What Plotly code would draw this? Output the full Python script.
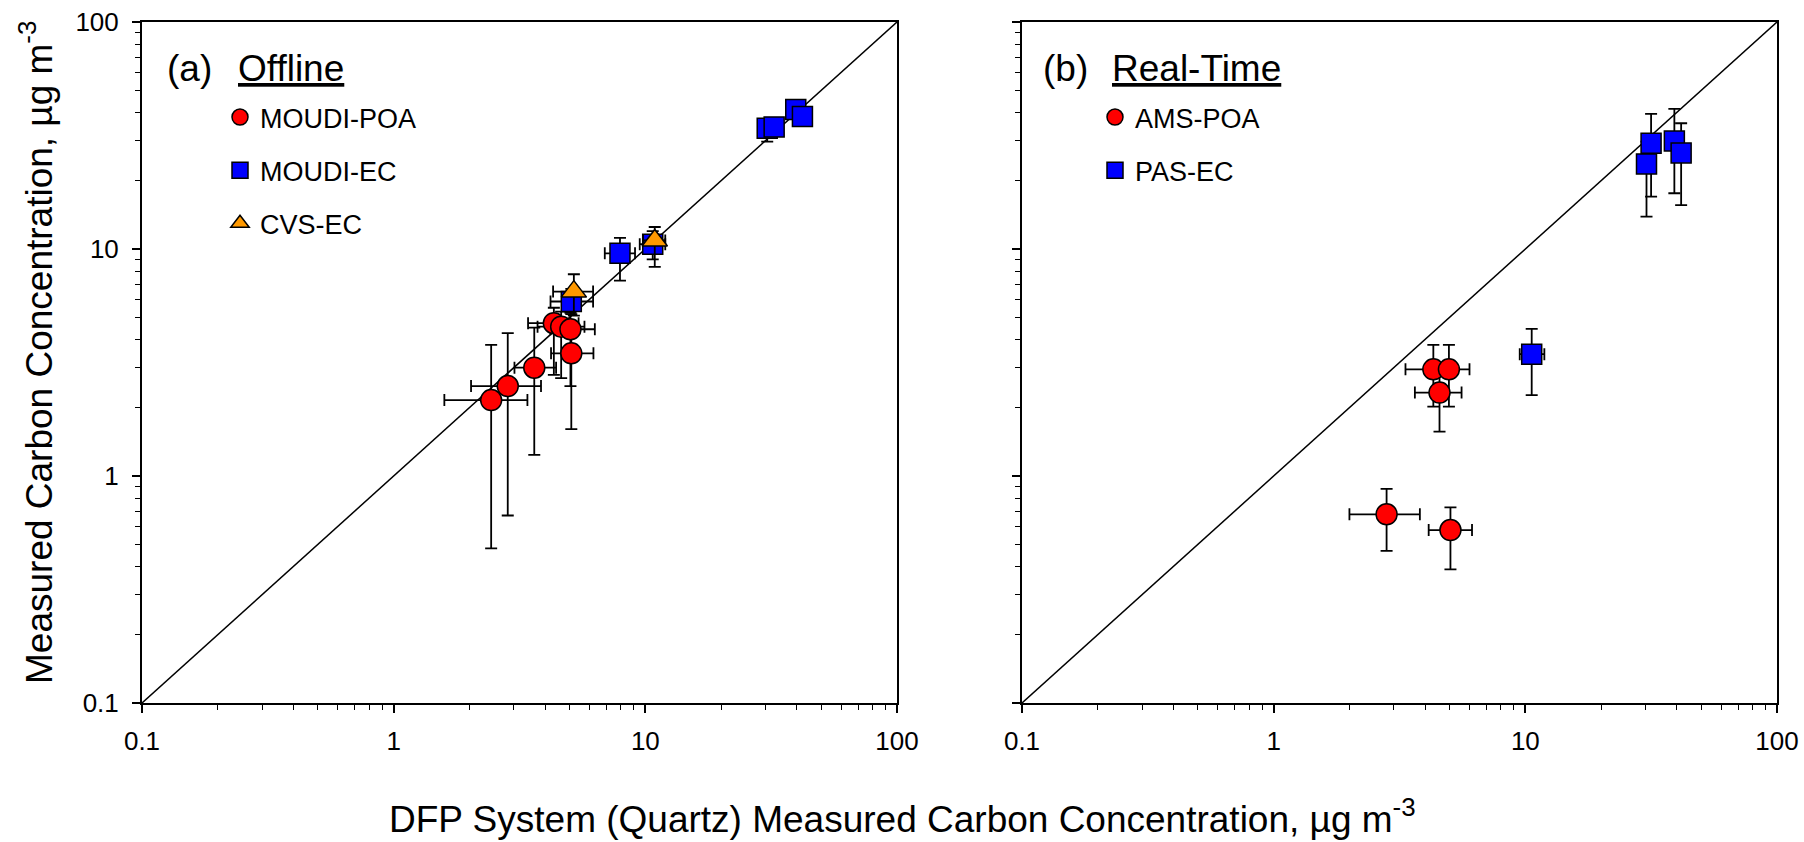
import plotly.graph_objects as go

# ---------------- data ----------------
# reference 1:1 line
line_x = [0.1, 100]
line_y = [0.1, 100]

# Panel (a) Offline
moudi_poa_x = [2.44, 2.84, 3.62, 5.08, 4.33, 4.63, 5.04]
moudi_poa_y = [2.16, 2.49, 3.00, 3.47, 4.71, 4.55, 4.43]
moudi_poa_xm = [0.85, 0.81, 0.60, 0.86, 0.91, 0.90, 0.84]
moudi_poa_xp = [0.96, 1.01, 0.80, 1.14, 1.10, 1.10, 1.26]
moudi_poa_ym = [1.68, 1.82, 1.76, 1.86, 1.92, 1.85, 1.94]
moudi_poa_yp = [1.62, 1.77, 1.50, 0.90, 0.80, 0.75, 0.80]

moudi_ec_x = [5.08, 7.93, 10.7, 30.5, 32.5, 39.6, 42.1]
moudi_ec_y = [5.87, 9.57, 10.5, 34.0, 34.5, 41.2, 38.3]
moudi_ec_xm = [0.88, 1.03, 1.20, 1.50, 1.50, 2.00, 2.00]
moudi_ec_xp = [1.12, 1.17, 1.30, 1.50, 1.50, 2.00, 2.00]
moudi_ec_ym = [0.70, 2.32, 1.50, 4.30, 3.00, 3.00, 3.00]
moudi_ec_yp = [0.80, 1.63, 1.50, 3.00, 3.00, 3.00, 3.00]

cvs_ec_x = [5.2, 10.9]
cvs_ec_y = [6.49, 10.9]
cvs_ec_xm = [0.90, 1.10]
cvs_ec_xp = [1.00, 1.10]
cvs_ec_ym = [1.40, 2.55]
cvs_ec_yp = [1.25, 1.60]

# Panel (b) Real-Time
ams_poa_x = [4.31, 4.97, 4.56, 2.81, 5.04]
ams_poa_y = [2.95, 2.95, 2.33, 0.678, 0.578]
ams_poa_xm = [0.97, 0.80, 0.92, 0.81, 0.91]
ams_poa_xp = [0.90, 1.03, 1.02, 1.00, 1.10]
ams_poa_ym = [0.93, 0.93, 0.76, 0.21, 0.19]
ams_poa_yp = [0.83, 0.83, 0.60, 0.20, 0.15]

pas_ec_x = [31.6, 30.3, 39.1, 41.6, 10.6]
pas_ec_y = [29.2, 23.7, 29.9, 26.5, 3.44]
pas_ec_xm = [1.5, 1.5, 1.5, 1.5, 1.10]
pas_ec_xp = [1.5, 1.5, 1.5, 1.5, 1.30]
pas_ec_ym = [12.2, 9.8, 12.3, 10.9, 1.17]
pas_ec_yp = [10.2, 6.0, 11.5, 9.3, 1.01]

tick_vals = [0.1, 1, 10, 100]
tick_text = ["0.1", "1", "10", "100"]

# ---------------- figure ----------------
FONT = "Liberation Sans, Arial, Helvetica, sans-serif"
W, H = 1804, 842

fig = go.Figure()


def add_series(x, y, xm, xp, ym, yp, name, symbol, color, xa, ya, legend, size=21):
    fig.add_trace(go.Scatter(
        x=x, y=y, mode="markers", name=name, xaxis=xa, yaxis=ya,
        legend=legend, legendgroup=name,
        marker=dict(symbol=symbol, size=size, color=color,
                    line=dict(color="black", width=1.5)),
        error_x=dict(type="data", symmetric=False, array=xp, arrayminus=xm,
                     color="black", thickness=1.8, width=6),
        error_y=dict(type="data", symmetric=False, array=yp, arrayminus=ym,
                     color="black", thickness=1.8, width=6),
    ))


# 1:1 lines
fig.add_trace(go.Scatter(x=line_x, y=line_y, mode="lines", xaxis="x", yaxis="y",
                         line=dict(color="black", width=1.5), showlegend=False,
                         hoverinfo="skip"))
fig.add_trace(go.Scatter(x=line_x, y=line_y, mode="lines", xaxis="x2", yaxis="y2",
                         line=dict(color="black", width=1.5), showlegend=False,
                         hoverinfo="skip"))

add_series(moudi_poa_x, moudi_poa_y, moudi_poa_xm, moudi_poa_xp, moudi_poa_ym, moudi_poa_yp,
           "MOUDI-POA", "circle", "#ff0000", "x", "y", "legend")
add_series(moudi_ec_x, moudi_ec_y, moudi_ec_xm, moudi_ec_xp, moudi_ec_ym, moudi_ec_yp,
           "MOUDI-EC", "square", "#0000ff", "x", "y", "legend", 20)
add_series(cvs_ec_x, cvs_ec_y, cvs_ec_xm, cvs_ec_xp, cvs_ec_ym, cvs_ec_yp,
           "CVS-EC", "triangle-up", "#ff9900", "x", "y", "legend", 22)

add_series(ams_poa_x, ams_poa_y, ams_poa_xm, ams_poa_xp, ams_poa_ym, ams_poa_yp,
           "AMS-POA", "circle", "#ff0000", "x2", "y2", "legend2")
add_series(pas_ec_x, pas_ec_y, pas_ec_xm, pas_ec_xp, pas_ec_ym, pas_ec_yp,
           "PAS-EC", "square", "#0000ff", "x2", "y2", "legend2", 20)

# panel geometry (pixels)
L1, R1 = 142, 897
L2, R2 = 1022, 1777
TOP, BOT = 22, 703
ydom = [1 - BOT / H, 1 - TOP / H]

common_axis = dict(
    type="log", range=[-1, 2], tickvals=tick_vals, ticktext=tick_text,
    ticks="outside", ticklen=8, tickwidth=1.6, tickcolor="black",
    showline=True, linecolor="black", linewidth=2, mirror=True,
    showgrid=False, zeroline=False, automargin=False,
    tickfont=dict(family=FONT, size=26, color="black"),
    minor=dict(ticks="outside", ticklen=5, tickwidth=1.3, tickcolor="black",
               dtick="D1", showgrid=False),
)

fig.update_layout(
    template="none",
    width=W, height=H,
    margin=dict(l=0, r=0, t=0, b=0, autoexpand=False),
    paper_bgcolor="white", plot_bgcolor="white",
    font=dict(family=FONT, color="black"),
    xaxis=dict(common_axis, domain=[L1 / W, R1 / W], anchor="y", ticklabelstandoff=6),
    yaxis=dict(common_axis, domain=ydom, anchor="x", ticklabelstandoff=8),
    xaxis2=dict(common_axis, domain=[L2 / W, R2 / W], anchor="y2", ticklabelstandoff=6),
    yaxis2=dict(common_axis, domain=ydom, anchor="x2", showticklabels=False),
    legend=dict(x=220 / W, y=1 - 93 / H, xanchor="left", yanchor="top",
                font=dict(family=FONT, size=27, color="black"),
                bgcolor="rgba(0,0,0,0)", borderwidth=0, tracegroupgap=15, itemwidth=30),
    legend2=dict(x=1095 / W, y=1 - 93 / H, xanchor="left", yanchor="top",
                 font=dict(family=FONT, size=27, color="black"),
                 bgcolor="rgba(0,0,0,0)", borderwidth=0, tracegroupgap=15, itemwidth=30),
    showlegend=True,
)

big = dict(family=FONT, size=37, color="black")
ann = [
    dict(text="DFP System (Quartz) Measured Carbon Concentration, µg m<sup>-3</sup>",
         x=0.5, y=0.0, xanchor="center", yanchor="bottom"),
    dict(text="Measured Carbon Concentration, µg m<sup>-3</sup>", textangle=-90,
         x=37 / W, y=1 - 353 / H, xanchor="center", yanchor="middle"),
    dict(text="(a)", x=165 / W, y=1 - 69 / H, xanchor="left", yanchor="middle"),
    dict(text="<u>Offline</u>", x=236 / W, y=1 - 69 / H, xanchor="left", yanchor="middle"),
    dict(text="(b)", x=1041 / W, y=1 - 69 / H, xanchor="left", yanchor="middle"),
    dict(text="<u>Real-Time</u>", x=1110 / W, y=1 - 69 / H, xanchor="left", yanchor="middle"),
]
for a in ann:
    fig.add_annotation(xref="paper", yref="paper", showarrow=False, font=big, **a)

fig.write_html("out.html")
